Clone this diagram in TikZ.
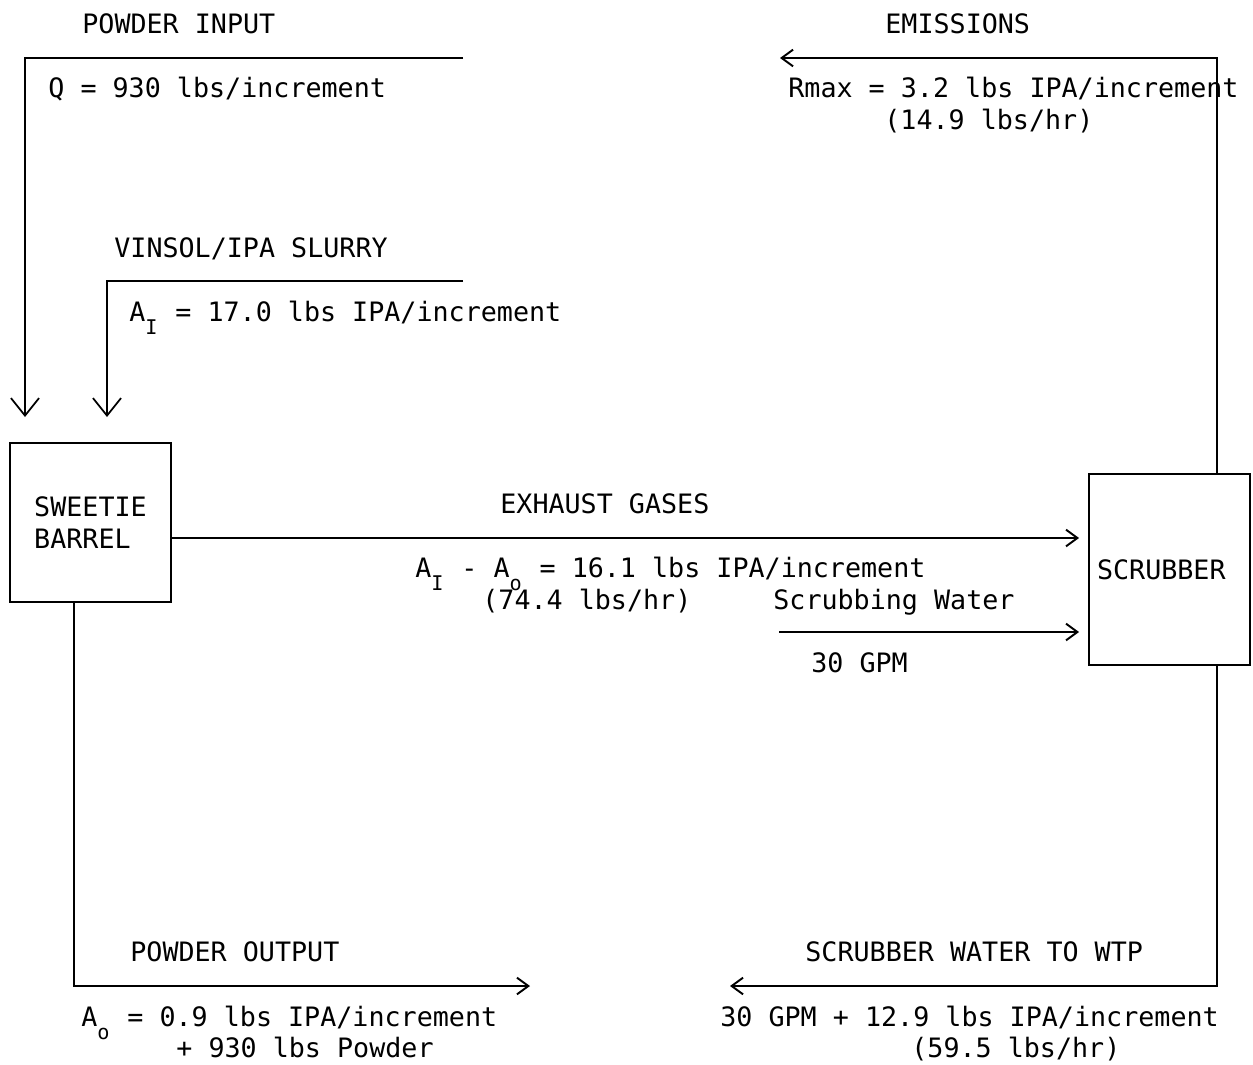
\documentclass[tikz,border=0pt]{standalone}
\usepackage{fontspec}
\setmonofont{DejaVu Sans Mono}
\usepackage{tikz}
\usetikzlibrary{arrows.meta, positioning, calc}

\tikzset{
    unit/.style={draw, line width=1.1pt, minimum width=3.22cm, minimum height=3.18cm, align=left},
    flow/.style={line width=0.9pt},
    downarrow/.style={flow, -{Straight Barb[length=10pt, width=16pt, line width=1pt]}, shorten >=0.5cm},
    sidearrow/.style={flow, -{Straight Barb[length=6.5pt, width=9.5pt, line width=1.1pt]}},
    lbl/.style={anchor=base west, inner sep=0pt},
}
\newcommand{\subs}[1]{\makebox[0.52em][l]{\raisebox{-0.5em}{\fontsize{11.5}{11.5}\selectfont #1}}}

\begin{document}
\begin{tikzpicture}[x=0.02cm, y=-0.02cm, font=\ttfamily\fontsize{15.2}{18.1}\selectfont]
    \useasboundingbox (0,0) rectangle (1253,1064);

    % Units
    \node[unit] (barrel) at (90.5,522.5) {SWEETIE\\BARREL};
    \node[unit, minimum height=3.82cm, text width=2.9cm] (scrubber) at (1169.5,569.5) {SCRUBBER};

    % Stream corners and ends
    \coordinate (pin) at (463,58);
    \coordinate (pinC) at (25,58);
    \coordinate (slu) at (463,281);
    \coordinate (sluC) at (107,281);
    \coordinate (ex) at (0,538);
    \coordinate (sw) at (779,632);
    \coordinate (emit) at (780,58);
    \coordinate (emitC) at (1217,58);
    \coordinate (pout) at (530,986);
    \coordinate (poutC) at (74,986);
    \coordinate (wtp) at (730,986);
    \coordinate (wtpC) at (1217,986);

    % Inputs to barrel
    \draw[downarrow] (pin) -- (pinC) -- (barrel.north -| pinC);
    \draw[downarrow] (slu) -- (sluC) -- (barrel.north -| sluC);

    % Barrel to scrubber
    \draw[sidearrow, shorten >=0.18cm] (barrel.east |- ex) -- (scrubber.west |- ex);
    \draw[sidearrow, shorten >=0.18cm] (sw) -- (scrubber.west |- sw);

    % Outputs
    \draw[sidearrow] (scrubber.north -| emitC) -- (emitC) -- (emit);
    \draw[sidearrow] (barrel.south -| poutC) -- (poutC) -- (pout);
    \draw[sidearrow] (scrubber.south -| wtpC) -- (wtpC) -- (wtp);

    % Labels
    \node[lbl] (pinT) at (82,34) {POWDER INPUT};
    \node[lbl] (pinQ) at (48,98) {Q = 930 lbs/increment};
    \node[lbl] (sluT) at (114,257) {VINSOL/IPA SLURRY};
    \node[lbl] (sluA) at (129,321) {A\subs{I} = 17.0 lbs IPA/increment};
    \node[lbl] (emitT) at (885,34) {EMISSIONS};
    \node[lbl] (emitR) at (788,98) {Rmax = 3.2 lbs IPA/increment};
    \node[lbl] (emitH) at (884,130) {(14.9 lbs/hr)};
    \node[lbl] (exT) at (500,513) {EXHAUST GASES};
    \node[lbl] (exA) at (415,577) {A\subs{I} - A\subs{o} = 16.1 lbs IPA/increment};
    \node[lbl] (exH) at (482,609) {(74.4 lbs/hr)};
    \node[lbl] (swT) at (773,609) {Scrubbing Water};
    \node[lbl] (swQ) at (811,672) {30 GPM};
    \node[lbl] (poutT) at (130,961) {POWDER OUTPUT};
    \node[lbl] (poutA) at (81,1026) {A\subs{o} = 0.9 lbs IPA/increment};
    \node[lbl] (poutP) at (176,1057) {+ 930 lbs Powder};
    \node[lbl] (wtpT) at (805,961) {SCRUBBER WATER TO WTP};
    \node[lbl] (wtpQ) at (720,1026) {30 GPM + 12.9 lbs IPA/increment};
    \node[lbl] (wtpH) at (911,1057) {(59.5 lbs/hr)};
\end{tikzpicture}
\end{document}
